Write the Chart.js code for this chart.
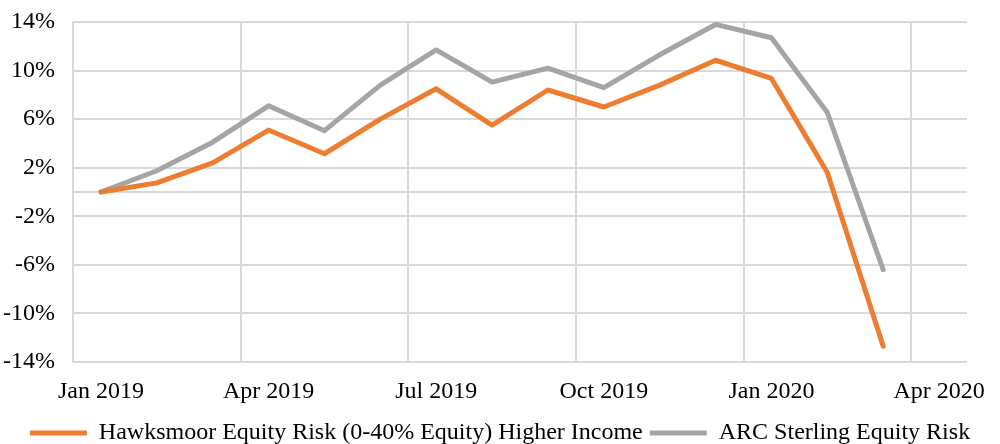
<!DOCTYPE html>
<html>
<head>
<meta charset="utf-8">
<script src="https://cdn.jsdelivr.net/npm/chart.js@4"></script>
<style>
  html, body { margin: 0; padding: 0; background: #fff; }
  #wrap { width: 1000px; height: 444px; }
</style>
</head>
<body>
<div id="wrap"><canvas id="perfChart" width="1000" height="444"></canvas></div>
<script>
// monthly categories, Jan 2019 - Apr 2020
const months = ["Jan 2019", "Feb 2019", "Mar 2019", "Apr 2019", "May 2019", "Jun 2019",
    "Jul 2019", "Aug 2019", "Sep 2019", "Oct 2019", "Nov 2019", "Dec 2019",
    "Jan 2020", "Feb 2020", "Mar 2020", "Apr 2020"];

// cumulative performance (%)
const hawksmoor = [0, 0.75, 2.4, 5.1, 3.15, 6.0, 8.5, 5.5, 8.4, 7.0, 8.8, 10.85, 9.35, 1.6, -12.7, null];
const arcSterling = [0, 1.75, 4.1, 7.1, 5.05, 8.8, 11.7, 9.05, 10.2, 8.6, 11.3, 13.8, 12.7, 6.55, -6.4, null];

const yTickValues = [-14, -10, -6, -2, 0, 2, 6, 10, 14];

const serif = "'Liberation Serif', 'Times New Roman', serif";
const gridGrey = "#D9D9D9";

Chart.defaults.font.family = serif;
Chart.defaults.font.size = 24;
Chart.defaults.color = "#000";

new Chart(document.getElementById("perfChart"), {
    type: "line",
    data: {
        labels: months,
        datasets: [{
            label: "Hawksmoor Equity Risk (0-40% Equity) Higher Income",
            data: hawksmoor,
            borderColor: "#ED7D31",
            backgroundColor: "#ED7D31",
            borderWidth: 5,
            pointRadius: 0,
            borderCapStyle: "round",
            borderJoinStyle: "round",
            fill: false
        }, {
            label: "ARC Sterling Equity Risk",
            data: arcSterling,
            borderColor: "#A5A5A5",
            backgroundColor: "#A5A5A5",
            borderWidth: 5,
            pointRadius: 0,
            borderCapStyle: "round",
            borderJoinStyle: "round",
            fill: false
        }]
    },
    options: {
        responsive: false,
        animation: false,
        layout: { padding: { top: 22, right: 0, left: 0, bottom: -11 } },
        plugins: {
            tooltip: { enabled: false },
            legend: {
                position: "bottom",
                labels: {
                    boxWidth: 57,
                    boxHeight: 5,
                    useBorderRadius: true,
                    borderRadius: 2.5,
                    padding: 7,
                    generateLabels: function (chart) {
                        return chart.data.datasets.map(function (ds, i) {
                            return {
                                text: ds.label,
                                fillStyle: ds.borderColor,
                                strokeStyle: ds.borderColor,
                                lineWidth: 0,
                                fontColor: "#000",
                                datasetIndex: i
                            };
                        });
                    }
                }
            }
        },
        scales: {
            x: {
                offset: true,
                afterFit: function (scale) {
                    scale.paddingLeft = 0;
                    scale.paddingRight = 33;
                    scale.height = 52;
                },
                grid: {
                    offset: true,
                    drawTicks: false,
                    lineWidth: 2,
                    color: function (ctx) {
                        return (ctx.tick && ctx.index % 3 === 0) ? gridGrey : "transparent";
                    }
                },
                border: { display: false },
                ticks: {
                    autoSkip: false,
                    maxRotation: 0,
                    padding: 15,
                    callback: function (val, i) {
                        return i % 3 === 0 ? months[i] : "";
                    }
                }
            },
            y: {
                min: -14,
                max: 14,
                afterBuildTicks: function (scale) {
                    scale.ticks = yTickValues.map(function (v) { return { value: v }; });
                },
                afterFit: function (scale) {
                    scale.width = 73;
                    scale.paddingTop = 0;
                    scale.paddingBottom = 0;
                },
                grid: { drawTicks: false, lineWidth: 2, color: gridGrey },
                border: { display: false },
                ticks: {
                    padding: 18,
                    callback: function (v) { return v === 0 ? "" : v + "%"; }
                }
            }
        }
    }
});
</script>
</body>
</html>
